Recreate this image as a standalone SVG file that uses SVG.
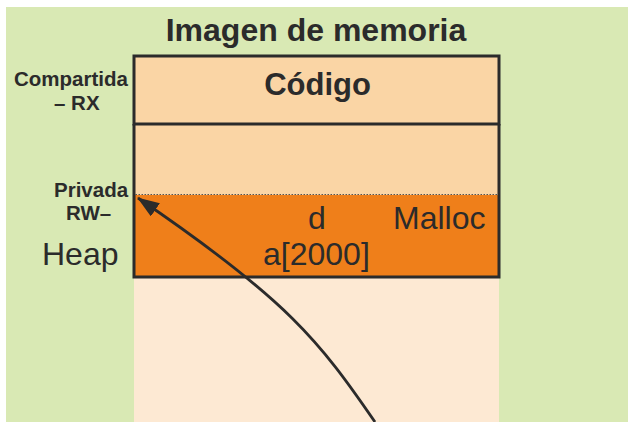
<svg xmlns="http://www.w3.org/2000/svg" width="628" height="422" viewBox="0 0 628 422">
  <defs>
    <style>
      .t { font-family: "Liberation Sans", Arial, sans-serif; fill: #2b2b2b; }
      .b { font-weight: bold; }
      .lbl { font-size: 20.5px; font-weight: bold; }
      .big { font-size: 32px; }
      .box { stroke: #2b2b2b; stroke-width: 3; }
    </style>
    <marker id="arrow" viewBox="0 0 22 16" refX="21" refY="8" markerWidth="22" markerHeight="16" markerUnits="userSpaceOnUse" orient="auto">
      <path d="M0,0 L22,8 L0,16 Z" fill="#2b2b2b"/>
    </marker>
  </defs>

  <rect x="0" y="0" width="628" height="422" fill="#ffffff"/>
  <rect x="6" y="7" width="622" height="415" fill="#d9e9b4"/>

  <g id="title">
    <text class="t b" x="316" y="41" font-size="32" text-anchor="middle">Imagen de memoria</text>
  </g>

  <g id="stack-area">
    <rect x="134" y="277" width="365" height="145" fill="#fde9d3"/>
  </g>

  <g id="data-area">
    <rect x="134" y="124" width="365" height="71" fill="#fad5a5"/>
  </g>

  <g id="heap">
    <rect x="134" y="195" width="365" height="82" fill="#ef7f1a"/>
    <line x1="135.5" y1="194.5" x2="497.5" y2="194.5" stroke="#555" stroke-width="1" stroke-dasharray="1.5 1.5"/>
    <text class="t big" x="308" y="229">d</text>
    <text class="t big" x="393" y="229">Malloc</text>
    <text class="t big" x="263" y="265">a[2000]</text>
  </g>

  <g id="outline">
    <path class="box" d="M134,124 L134,277 L499,277 L499,124" fill="none"/>
  </g>

  <g id="codigo">
    <rect class="box" x="134" y="56" width="365" height="68" fill="#fad5a5"/>
    <text class="t b" x="317.5" y="95" font-size="31" text-anchor="middle">Código</text>
  </g>

  <g id="labels">
    <text class="t lbl" x="14" y="86">Compartida</text>
    <text class="t lbl" x="54" y="110">– RX</text>
    <text class="t lbl" x="54" y="196.5">Privada</text>
    <text class="t lbl" x="66" y="220">RW–</text>
    <text class="t big" x="42" y="265">Heap</text>
  </g>

  <g id="connectors">
    <path d="M375,422 C320,342 288,300 138,198" fill="none" stroke="#2b2b2b" stroke-width="2.8" marker-end="url(#arrow)"/>
  </g>
</svg>
